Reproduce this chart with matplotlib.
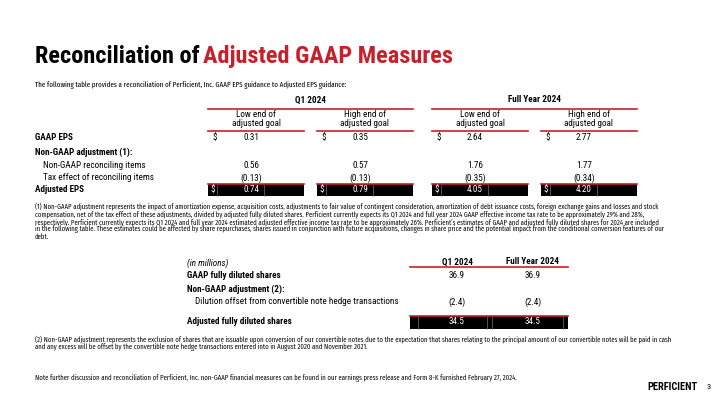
import matplotlib
matplotlib.use("Agg")
import matplotlib.pyplot as plt

RED = "#c8202a"
COND = ["Roboto Condensed", "Roboto", "DejaVu Sans"]
BODY = ["Fira Sans Condensed", "Lato", "DejaVu Sans"]
SUB = ["Fira Sans Extra Condensed", "Fira Sans Condensed", "Lato", "DejaVu Sans"]
HEAD = ["Roboto Condensed", "Liberation Sans", "DejaVu Sans"]

# --- data -------------------------------------------------------------
eps_labels = ["GAAP EPS", "Non-GAAP adjustment (1):", "Non-GAAP reconciling items",
              "Tax effect of reconciling items", "Adjusted EPS"]
eps_bold = [True, True, False, False, True]
eps_cols = ["Low end of\nadjusted goal", "High end of\nadjusted goal",
            "Low end of\nadjusted goal", "High end of\nadjusted goal"]
eps_groups = ["Q1 2024", "Full Year 2024"]
eps_q1_low = [0.31, None, 0.56, -0.13, 0.74]
eps_q1_high = [0.35, None, 0.57, -0.13, 0.79]
eps_fy_low = [2.64, None, 1.76, -0.35, 4.05]
eps_fy_high = [2.77, None, 1.77, -0.34, 4.20]

share_labels = ["GAAP fully diluted shares", "Non-GAAP adjustment (2):",
                "Dilution offset from convertible note hedge transactions",
                "Adjusted fully diluted shares"]
share_bold = [True, True, False, True]
share_cols = ["Q1 2024", "Full Year 2024"]
shares_q1 = [36.9, None, -2.4, 34.5]
shares_fy = [36.9, None, -2.4, 34.5]

note1 = [
    "(1) Non-GAAP adjustment represents the impact of amortization expense, acquisition costs, adjustments to fair value of contingent consideration, amortization of debt issuance costs, foreign exchange gains and losses and stock",
    "compensation, net of the tax effect of these adjustments, divided by adjusted fully diluted shares. Perficient currently expects its Q1 2024 and full year 2024 GAAP effective income tax rate to be approximately 29% and 28%,",
    "respectively. Perficient currently expects its Q1 2024 and full year 2024 estimated adjusted effective income tax rate to be approximately 26%. Perficient\u2019s estimates of GAAP and adjusted fully diluted shares for 2024 are included",
    "in the following table. These estimates could be affected by share repurchases, shares issued in conjunction with future acquisitions, changes in share price and the potential impact from the conditional conversion features of our",
    "debt.",
]
note2 = [
    "(2) Non-GAAP adjustment represents the exclusion of shares that are issuable upon conversion of our convertible notes due to the expectation that shares relating to the principal amount of our convertible notes will be paid in cash",
    "and any excess will be offset by the convertible note hedge transactions entered into in August 2020 and November 2021.",
]
note3 = "Note further discussion and reconciliation of Perficient, Inc. non-GAAP financial measures can be found in our earnings press release and Form 8-K furnished February 27, 2024."


def fmt(v, dec):
    if v is None:
        return ""
    s = f"{abs(v):.{dec}f}"
    return f"({s})" if v < 0 else s


fig = plt.figure(figsize=(7.2, 4.05), dpi=100)
ax = fig.add_axes([0, 0, 1, 1])
ax.set_xlim(0, 720)
ax.set_ylim(405, 0)
ax.axis("off")

FS = 6.6   # table font size
NS = 4.8   # footnote font size

# title
ax.text(35, 63, "Reconciliation of", fontsize=17.5, weight="bold", family=HEAD)
ax.text(203, 63, "Adjusted GAAP Measures", fontsize=17.5, weight="bold", family=HEAD, color=RED)
ax.text(35, 87, "The following table provides a reconciliation of Perficient, Inc. GAAP EPS guidance to Adjusted EPS guidance:",
        fontsize=5.5, family=SUB)

# --- EPS table ----------------------------------------------------------
col_x = [208, 317, 432, 541]
col_w = 96
row_y = [138, 152, 165, 178, 190]
series = [eps_q1_low, eps_q1_high, eps_fy_low, eps_fy_high]

for g, name in enumerate(eps_groups):
    x0, x1 = col_x[2 * g], col_x[2 * g + 1] + col_w
    ax.text((x0 + x1) / 2, 100, name, fontsize=FS, weight="bold", family=COND, ha="center", va="center")
    ax.plot([x0, x1], [109, 109], color=RED, lw=1.2)

for c, lab in enumerate(eps_cols):
    x0 = col_x[c]
    ax.text(x0 + col_w / 2, 119, lab, fontsize=FS, family=COND, ha="center", va="center", linespacing=0.95)
    ax.plot([x0, x0 + col_w], [131, 131], color=RED, lw=1.2)

for r, lab in enumerate(eps_labels):
    y = row_y[r]
    ax.text(35 if eps_bold[r] else 43, y, lab, fontsize=FS, family=COND,
            weight="bold" if eps_bold[r] else "normal", va="center")
    last = r == len(eps_labels) - 1
    for c, vals in enumerate(series):
        x0 = col_x[c]
        txt = fmt(vals[r], 2)
        if not txt:
            continue
        color = "black"
        if last:
            ax.fill_between([x0, x0 + col_w], y - 6, y + 6, color="black", lw=0)
            ax.plot([x0, x0 + col_w], [y - 6, y - 6], color=RED, lw=1.2)
            for dx in (9, 56):
                ax.plot([x0 + dx, x0 + dx], [y - 5, y + 6], color="#777777", lw=0.5)
            color = "white"
        if r == 0 or last:
            ax.text(x0 + (2 if last else 4), y, "$", fontsize=FS, family=COND, color=color, va="center")
        ax.text(x0 + 43, y, txt, fontsize=FS, family=COND, color=color, ha="center", va="center")

for i, line in enumerate(note1):
    ax.text(35, 207 + i * 7.4, line, fontsize=NS, family=BODY, va="center")

# --- shares table ---------------------------------------------------------
sx = [457, 533]
srow_y = [276, 289, 302, 322]
ax.text(187, 263, "(in millions)", fontsize=FS, family=COND, style="italic", va="center")
for c, name in enumerate(share_cols):
    ax.text(sx[c], 262, name, fontsize=FS, weight="bold", family=COND, ha="center", va="center")
ax.plot([410, 568], [267, 267], color=RED, lw=1.2)

for r, lab in enumerate(share_labels):
    y = srow_y[r]
    ax.text(187 if share_bold[r] else 195, y, lab, fontsize=FS, family=COND,
            weight="bold" if share_bold[r] else "normal", va="center")
    last = r == len(share_labels) - 1
    color = "black"
    if last:
        ax.fill_between([410, 568], y - 6.5, y + 6.5, color="black", lw=0)
        ax.plot([410, 568], [y - 6.5, y - 6.5], color=RED, lw=1.2)
        for xx in (418, 487, 492, 563):
            ax.plot([xx, xx], [y - 5.5, y + 6.5], color="#777777", lw=0.5)
        color = "white"
    for c, vals in enumerate([shares_q1, shares_fy]):
        txt = fmt(vals[r], 1)
        if txt:
            ax.text(sx[c], y, txt, fontsize=FS, family=COND, color=color, ha="center", va="center")

for i, line in enumerate(note2):
    ax.text(35, 340 + i * 7.4, line, fontsize=NS, family=BODY, va="center")
ax.text(35, 378, note3, fontsize=NS, family=BODY, va="center")

ax.text(697, 387, "PERFICIENT", fontsize=7.5, weight="bold", family=COND, ha="right", va="center")
ax.text(707, 387, "3", fontsize=6, family=COND, va="center")

fig.savefig("out.png", dpi=100)
